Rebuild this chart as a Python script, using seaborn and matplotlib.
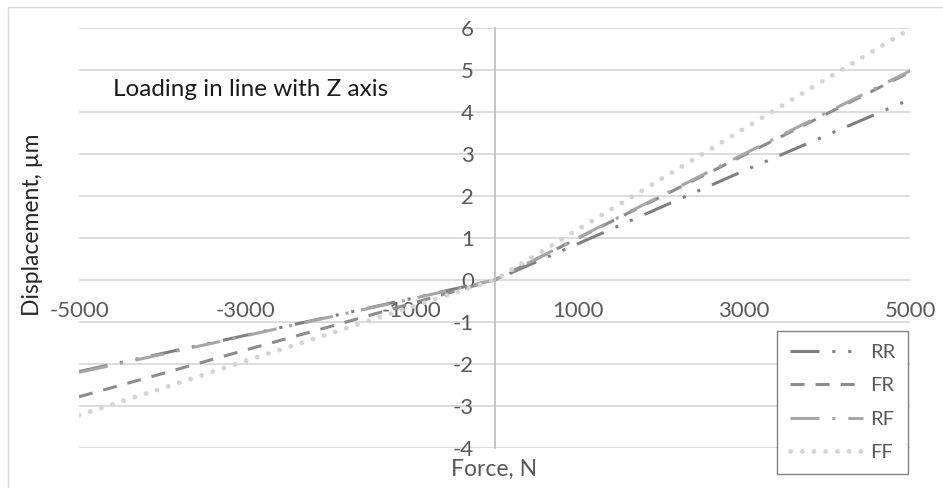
import numpy as np
import pandas as pd
import matplotlib
matplotlib.use("Agg")
import matplotlib.pyplot as plt
import seaborn as sns
from matplotlib.patches import Rectangle

# -----------------------------
# DATA
# -----------------------------
force = [-5000, -4000, -3000, -2000, -1000, 0, 1000, 2000, 3000, 4000, 5000]
rr = [-2.18, -1.75, -1.32, -0.88, -0.44, 0.0, 0.86, 1.73, 2.60, 3.45, 4.30]
fr = [-2.78, -2.23, -1.67, -1.12, -0.56, 0.0, 0.99, 1.98, 2.97, 3.96, 4.95]
rf = [-2.20, -1.77, -1.33, -0.89, -0.45, 0.0, 1.00, 2.00, 3.00, 3.99, 4.98]
ff = [-3.22, -2.58, -1.93, -1.29, -0.64, 0.0, 1.20, 2.40, 3.60, 4.80, 5.98]

series_names = ["RR", "FR", "RF", "FF"]
x_ticks = [-5000, -3000, -1000, 1000, 3000, 5000]
y_ticks = [-4, -3, -2, -1, 0, 1, 2, 3, 4, 5, 6]

# -----------------------------
# STYLE
# -----------------------------
sns.set_style("white")
plt.rcParams["font.family"] = ["Lato", "DejaVu Sans"]

styles = {
    "RR": dict(color="#7f7f7f", lw=2.2, ls=(0, (9.5, 4.2, 1, 4.2, 1, 4.2)), cap="butt"),
    "FR": dict(color="#8c8c8c", lw=2.2, ls=(0, (4.6, 3.6)), cap="butt"),
    "RF": dict(color="#a6a6a6", lw=2.2, ls=(0, (9.5, 4.2, 1, 4.2)), cap="butt"),
    "FF": dict(color="#d4d4d4", lw=3.5, ls=(0, (0.01, 2.4)), cap="round"),
}

df = pd.DataFrame({"force": force, "RR": rr, "FR": fr, "RF": rf, "FF": ff})

fig = plt.figure(figsize=(9.43, 4.88), dpi=100)
ax = fig.add_axes([0.0838, 0.082, 0.8814, 0.8607])

for name in series_names:
    st = styles[name]
    sns.lineplot(data=df, x="force", y=name, ax=ax, color=st["color"],
                 linewidth=st["lw"], linestyle=st["ls"], label=name,
                 dash_capstyle=st["cap"], solid_capstyle=st["cap"])

ax.set_xlim(-5000, 5000)
ax.set_ylim(-4, 6)
ax.set_xticks(x_ticks)
ax.set_yticks(y_ticks)
ax.set_xticklabels([str(v) for v in x_ticks])
ax.set_yticklabels([str(v) for v in y_ticks])
ax.set_xlabel("")
ax.set_ylabel("")

# gridlines and centred axes
ax.yaxis.grid(True, color="#d9d9d9", lw=1.3)
ax.xaxis.grid(False)
ax.set_axisbelow(True)
for s in ["top", "right"]:
    ax.spines[s].set_visible(False)
ax.spines["bottom"].set_visible(False)
ax.spines["bottom"].set_position(("data", 0))
ax.spines["left"].set_position(("data", 0))
ax.spines["left"].set_color("#bfbfbf")
ax.spines["left"].set_linewidth(1.3)
ax.tick_params(axis="both", length=0, labelsize=16, labelcolor="#595959")
ax.tick_params(axis="y", pad=15)
ax.tick_params(axis="x", pad=15)

# titles
fig.text(494 / 943, 1 - 469 / 488, "Force, N", ha="center", va="center",
         fontsize=16.5, color="#595959")
fig.text(33 / 943, 1 - 225 / 488, "Displacement, µm", ha="center", va="center",
         rotation=90, fontsize=16.5, color="#262626")
fig.text(113 / 943, 1 - 90 / 488, "Loading in line with Z axis", ha="left",
         va="center", fontsize=17.5, color="#1a1a1a")

# legend
leg = ax.legend(loc="lower right", bbox_to_anchor=(908 / 943, 1 - 474 / 488),
                bbox_transform=fig.transFigure, fontsize=14.5, frameon=True,
                fancybox=False, framealpha=1, edgecolor="#808080",
                handlelength=3.6, handletextpad=0.35, labelspacing=0.8,
                borderpad=0.65, borderaxespad=0)
leg.get_frame().set_linewidth(1.0)
for t in leg.get_texts():
    t.set_color("#595959")

# outer chart border
fig.patches.append(Rectangle((8 / 943, -0.1), 1.1, 1 - 7 / 488 + 0.1,
                             transform=fig.transFigure, fill=False,
                             edgecolor="#d9d9d9", lw=1.0))

fig.savefig("out.png", dpi=100)
